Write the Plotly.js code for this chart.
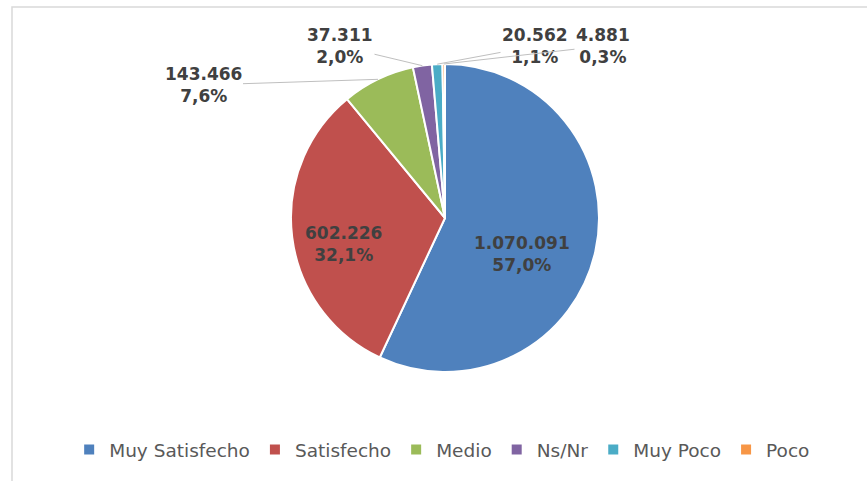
<!DOCTYPE html>
<html>
<head>
<meta charset="utf-8">
<script src="https://cdn.plot.ly/plotly-3.0.1.min.js"></script>
<style>html,body{margin:0;padding:0;background:#fff;}#chart{width:867px;height:481px;}</style>
</head>
<body>
<div id="chart"></div>
<script>
// ---- data ----
const categories = ["Muy Satisfecho", "Satisfecho", "Medio", "Ns/Nr", "Muy Poco", "Poco"];
const values = [1070091, 602226, 143466, 37311, 20562, 4881];
const colors = ["#4F81BD", "#C0504D", "#9BBB59", "#8064A2", "#4BACC6", "#F79646"];

// ---- geometry / style ----
const W = 867, H = 481;
const cx = 445, cy = 218, R = 154;
// label text centers (px); slices with leader lines are marked
const labelPos = {0: [522, 254, false], 1: [343, 244, false], 2: [203, 85, true],
                  3: [340, 46, true], 4: [535, 46, true], 5: [603, 46, true]};
const labelFont = {family: "'DejaVu Sans', sans-serif", size: 17, color: "#404040", weight: 700};

const total = values.reduce((a, b) => a + b, 0);
function fmtNum(v) { return String(v).replace(/\B(?=(\d{3})+(?!\d))/g, "."); }
function fmtPct(v) { return (v / total * 100).toFixed(1).replace(".", ",") + "%"; }
const labelText = values.map(v => fmtNum(v) + "<br>" + fmtPct(v));

const annotations = [];
let cum = 0;
values.forEach((v, i) => {
  const mid = 2 * Math.PI * (cum + v / 2) / total;
  cum += v;
  const [tx, ty, leader] = labelPos[i];
  if (leader) {
    const px = cx + R * Math.sin(mid);
    const py = cy - R * Math.cos(mid);
    annotations.push({
      xref: "paper", yref: "paper",
      x: px / W, y: 1 - py / H,
      ax: tx - px, ay: ty - py,
      axref: "pixel", ayref: "pixel",
      text: labelText[i],
      showarrow: true, arrowhead: 0, arrowwidth: 1, arrowcolor: "#BFBFBF",
      standoff: 0, startstandoff: 0,
      font: labelFont, align: "center"
    });
  } else {
    annotations.push({
      xref: "paper", yref: "paper",
      x: tx / W, y: 1 - ty / H, xanchor: "center", yanchor: "middle",
      text: labelText[i], showarrow: false,
      font: labelFont, align: "center"
    });
  }
});

const trace = {
  type: "pie",
  labels: categories,
  values: values,
  textinfo: "none",
  sort: false,
  direction: "clockwise",
  rotation: 0,
  marker: {colors: colors, line: {color: "#FFFFFF", width: 2}},
  domain: {x: [(cx - R) / W, (cx + R) / W], y: [1 - (cy + R) / H, 1 - (cy - R) / H]},
  hoverinfo: "label+value+percent"
};

const layout = {
  width: W, height: H,
  margin: {l: 0, r: 0, t: 0, b: 0},
  paper_bgcolor: "#FFFFFF",
  showlegend: true,
  legend: {
    orientation: "h", x: 0.51, xanchor: "center", y: 1 - 450 / H, yanchor: "middle",
    font: {family: "'DejaVu Sans', sans-serif", size: 18.5, color: "#595959"},
    traceorder: "normal", itemwidth: 30
  },
  annotations: annotations,
  shapes: [{
    type: "rect", xref: "paper", yref: "paper",
    x0: 12 / W, x1: 1.05, y0: -0.05, y1: 1 - 7 / H,
    line: {color: "#D9D9D9", width: 1.5}, fillcolor: "rgba(0,0,0,0)", layer: "below"
  }]
};

Plotly.newPlot("chart", [trace], layout, {displayModeBar: false, staticPlot: true});
</script>
</body>
</html>
